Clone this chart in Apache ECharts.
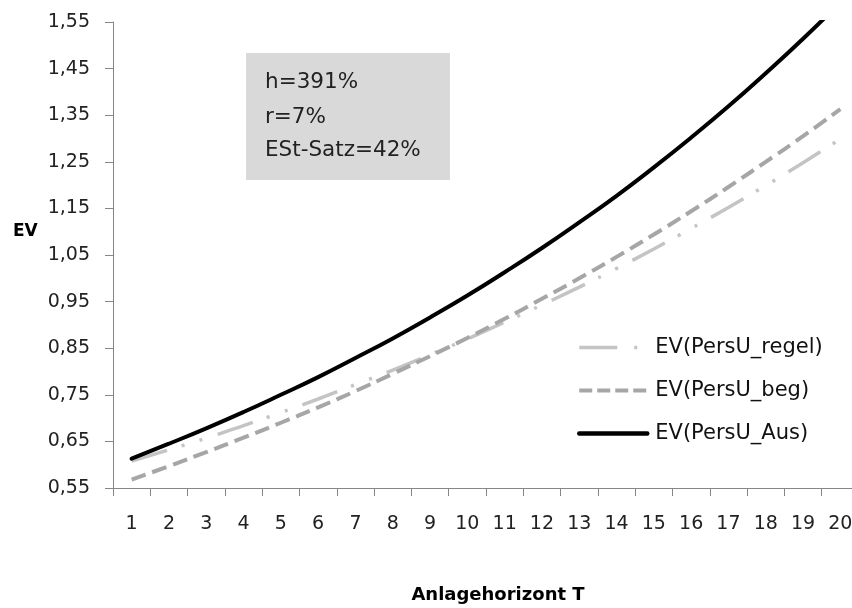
<!DOCTYPE html>
<html>
<head>
<meta charset="utf-8">
<script src="https://cdn.jsdelivr.net/npm/echarts@6/dist/echarts.min.js"></script>
<style>html,body{margin:0;padding:0;background:#fff;}#c{width:852px;height:608px;}</style>
</head>
<body>
<div id="c"></div>
<script>
var categories = ['1','2','3','4','5','6','7','8','9','10','11','12','13','14','15','16','17','18','19','20'];
var evRegel = [0.608,0.632,0.657,0.684,0.712,0.741,0.772,0.803,0.836,0.870,0.906,0.943,0.981,1.021,1.063,1.107,1.152,1.199,1.248,1.299];
var evBeg   = [0.568,0.597,0.627,0.658,0.690,0.723,0.758,0.795,0.833,0.872,0.913,0.956,1.000,1.046,1.094,1.144,1.196,1.250,1.305,1.363];
var evAus   = [0.613,0.645,0.678,0.713,0.750,0.788,0.829,0.871,0.916,0.963,1.013,1.065,1.120,1.177,1.238,1.302,1.369,1.440,1.514,1.592];
var seriesNames = ['EV(PersU_regel)','EV(PersU_beg)','EV(PersU_Aus)'];
var boxLines = ['h=391%','r=7%','ESt-Satz=42%'];
var xTitle = 'Anlagehorizont T';
var yTitle = 'EV';
var yMin = 0.55, yMax = 1.55, yStep = 0.1;

var FONT = 'DejaVu Sans';
var chart = echarts.init(document.getElementById('c'));
var regelDash = [37,15,3,16,3,16];
var begDash = [15,7];
var hidden = {opacity: 0, color: 'rgba(0,0,0,0)', borderWidth: 0};
chart.setOption({
  animation: false,
  backgroundColor: '#ffffff',
  grid: {left: 113, top: 22, width: 746, height: 466, containLabel: false, outerBoundsMode: 'none'},
  xAxis: {
    type: 'category',
    data: categories,
    boundaryGap: true,
    axisLine: {lineStyle: {color: '#868686', width: 1}},
    axisTick: {show: true, length: 8, alignWithLabel: false, interval: 0, lineStyle: {color: '#868686'}},
    axisLabel: {interval: 0, margin: 27, fontFamily: FONT, fontSize: 19, color: '#222'},
    splitLine: {show: false}
  },
  yAxis: {
    type: 'value',
    min: yMin, max: yMax, interval: yStep,
    axisLine: {show: true, lineStyle: {color: '#868686', width: 1}},
    axisTick: {show: true, length: 8, lineStyle: {color: '#868686'}},
    axisLabel: {margin: 23, fontFamily: FONT, fontSize: 19, color: '#222',
      formatter: function (v) { return v.toFixed(2).replace('.', ','); }},
    splitLine: {show: false}
  },
  legend: {
    orient: 'vertical',
    left: 577, top: 337, padding: 0,
    itemWidth: 68, itemHeight: 20, itemGap: 22,
    textStyle: {fontFamily: FONT, fontSize: 21, color: '#111', padding: [0,0,0,3]},
    data: [
      {name: seriesNames[0], itemStyle: hidden, lineStyle: {width: 3.5, color: '#c4c4c4', type: [38,17,3,30]}},
      {name: seriesNames[1], itemStyle: hidden, lineStyle: {width: 4, color: '#a6a6a6', type: [13,5]}},
      {name: seriesNames[2], itemStyle: hidden, lineStyle: {width: 4.5, color: '#000'}}
    ]
  },
  series: [
    {name: seriesNames[0], type: 'line', data: evRegel, symbol: 'none', smooth: true, z: 2,
      itemStyle: {color: '#c4c4c4'},
      lineStyle: {color: '#c4c4c4', width: 3.5, type: regelDash}},
    {name: seriesNames[1], type: 'line', data: evBeg, symbol: 'none', smooth: true, z: 3,
      itemStyle: {color: '#a6a6a6'},
      lineStyle: {color: '#a6a6a6', width: 4, type: begDash}},
    {name: seriesNames[2], type: 'line', data: evAus, symbol: 'none', smooth: true, z: 4, clip: true,
      itemStyle: {color: '#000'},
      lineStyle: {color: '#000', width: 4, cap: 'round'}}
  ],
  graphic: [
    {type: 'text', x: 13, y: 232, style: {text: yTitle, fontFamily: FONT, fontSize: 17, fontWeight: 'bold', fill: '#000', verticalAlign: 'middle'}},
    {type: 'text', x: 498, y: 595, style: {text: xTitle, fontFamily: FONT, fontSize: 18, fontWeight: 'bold', fill: '#000', align: 'center', verticalAlign: 'middle'}},
    {type: 'rect', shape: {x: 246, y: 53, width: 204, height: 127}, style: {fill: '#d9d9d9'}},
    {type: 'text', x: 265, y: 82, style: {text: boxLines[0], fontFamily: FONT, fontSize: 21.5, fill: '#222', verticalAlign: 'middle'}},
    {type: 'text', x: 265, y: 117, style: {text: boxLines[1], fontFamily: FONT, fontSize: 21.5, fill: '#222', verticalAlign: 'middle'}},
    {type: 'text', x: 265, y: 150, style: {text: boxLines[2], fontFamily: FONT, fontSize: 21.5, fill: '#222', verticalAlign: 'middle'}}
  ]
});
</script>
</body>
</html>
